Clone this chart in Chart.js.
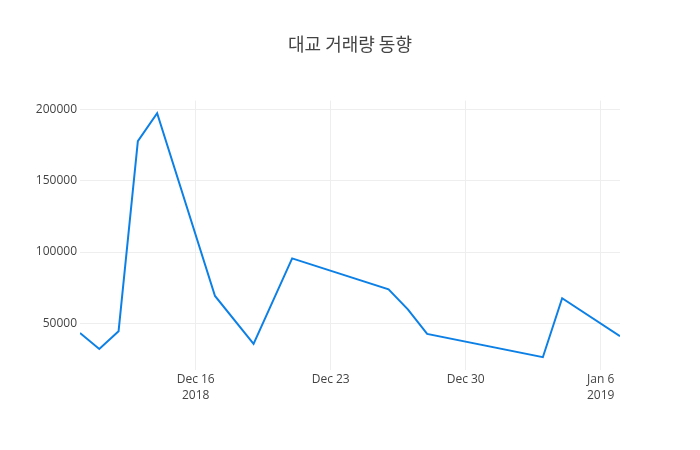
<!DOCTYPE html>
<html lang="ko">
<head>
  <meta charset="UTF-8">
  <title>대교 거래량 동향</title>
  <script src="https://cdn.jsdelivr.net/npm/chart.js"></script>
  <style>
    html, body { margin: 0; padding: 0; background: #fff; }
    #wrap { width: 700px; height: 450px; }
  </style>
</head>
<body>
<div id="wrap"><canvas id="volChart" width="700" height="450"></canvas></div>
<script>
// 거래일과 거래량
const dates = ['2018-12-10', '2018-12-11', '2018-12-12', '2018-12-13', '2018-12-14',
  '2018-12-17', '2018-12-19', '2018-12-21', '2018-12-26', '2018-12-27',
  '2018-12-28', '2019-01-03', '2019-01-04', '2019-01-07'];
const volumes = [43000, 31800, 44300, 178000, 197600, 69100, 35400, 95500,
  73800, 59700, 42400, 26000, 67500, 40800];
const xTickDates = ['2018-12-16', '2018-12-23', '2018-12-30', '2019-01-06'];
const xTickLabels = [['Dec 16', '2018'], 'Dec 23', 'Dec 30', ['Jan 6', '2019']];
const yTicks = [50000, 100000, 150000, 200000];

const DAY = 86400000;
const base = Date.parse(dates[0]);
const toDay = d => (Date.parse(d) - base) / DAY;

const points = dates.map((d, i) => ({ x: toDay(d), y: volumes[i] }));
const tickDays = xTickDates.map(toDay);

const font = { family: '"Open Sans", "Noto Sans CJK KR", sans-serif', size: 12 };

new Chart(document.getElementById('volChart'), {
  type: 'line',
  data: {
    datasets: [{
      data: points,
      borderColor: '#0d80e6',
      borderWidth: 2,
      pointRadius: 0,
      tension: 0,
      fill: false
    }]
  },
  options: {
    responsive: false,
    animation: false,
    layout: { padding: 0 },
    plugins: {
      legend: { display: false },
      tooltip: { enabled: false },
      title: {
        display: true,
        text: '대교 거래량 동향',
        color: '#444',
        font: { family: '"Noto Sans CJK KR", "Open Sans", sans-serif', size: 18, weight: 'normal' },
        padding: { top: 33, bottom: 46 }
      }
    },
    scales: {
      x: {
        type: 'linear',
        min: 0,
        max: toDay(dates[dates.length - 1]),
        afterBuildTicks: s => { s.ticks = tickDays.map(v => ({ value: v })); },
        afterFit: s => { s.height = 80; },
        ticks: {
          color: '#444',
          font: { ...font, lineHeight: 1.35 },
          padding: 1,
          maxRotation: 0,
          autoSkip: false,
          callback: (v) => xTickLabels[tickDays.indexOf(v)]
        },
        grid: { color: '#eee', drawTicks: false },
        border: { display: false }
      },
      y: {
        min: 17000,
        max: 206500,
        afterBuildTicks: s => { s.ticks = yTicks.map(v => ({ value: v })); },
        afterFit: s => { s.width = 80; },
        ticks: {
          color: '#444',
          font: font,
          padding: 3,
          callback: v => String(v)
        },
        grid: { color: '#eee', drawTicks: false },
        border: { display: false }
      },
      // 오른쪽 여백용 빈 축
      yRight: {
        position: 'right',
        min: 17000,
        max: 206500,
        afterFit: s => { s.width = 80; },
        ticks: { display: false },
        grid: { display: false },
        border: { display: false }
      }
    }
  }
});
</script>
</body>
</html>
